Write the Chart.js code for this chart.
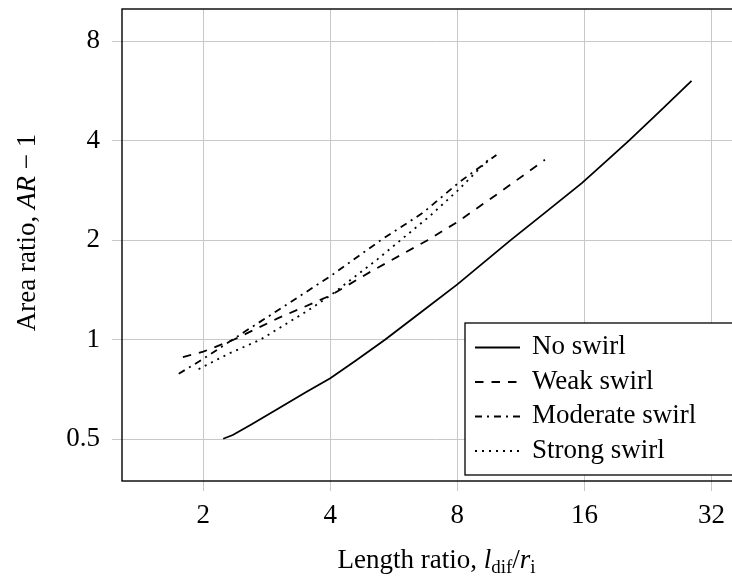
<!DOCTYPE html>
<html>
<head>
<meta charset="utf-8">
<script src="https://cdn.jsdelivr.net/npm/chart.js@4.4.1/dist/chart.umd.min.js"></script>
<style>
html,body{margin:0;padding:0;overflow:hidden;background:#fff;width:732px;height:577px;}
canvas{display:block;}
</style>
</head>
<body>
<canvas id="c" width="760" height="577"></canvas>
<script>
// ---- data ----
const xTickValues = [2, 4, 8, 16, 32];
const yTickValues = [0.5, 1, 2, 4, 8];

const seriesNames = ["No swirl", "Weak swirl", "Moderate swirl", "Strong swirl"];

const noSwirlX = [2.23, 2.35, 2.6, 3.0, 3.5, 4.0, 4.6, 5.39, 6.5, 8.0, 10.7, 13.0, 15.8, 18.0, 20.4, 24.0, 28.7];
const noSwirlY = [0.502, 0.515, 0.554, 0.617, 0.694, 0.765, 0.865, 1.0, 1.2, 1.47, 2.0, 2.44, 2.98, 3.46, 4.0, 4.87, 6.06];

const weakX = [1.79, 2.0, 2.36, 3.0, 4.0, 5.0, 6.8, 8.0, 10.0, 12.9];
const weakY = [0.886, 0.92, 1.0, 1.16, 1.36, 1.61, 2.0, 2.27, 2.77, 3.5];

const moderateX = [1.75, 2.0, 2.5, 3.0, 4.0, 5.27, 6.63, 8.1, 9.9];
const moderateY = [0.789, 0.875, 1.055, 1.225, 1.556, 2.0, 2.42, 3.0, 3.62];

const strongX = [1.95, 2.3, 2.73, 3.52, 4.0, 5.17, 6.87, 8.0, 9.6];
const strongY = [0.815, 0.908, 1.0, 1.22, 1.36, 1.75, 2.36, 2.82, 3.56];

// ---- styling ----
const FONT = "'Liberation Serif', 'Times New Roman', serif";
const FS = 27;
const dashes = [[], [8.5, 8], [7, 5, 2, 5], [2, 5]];
const LW = 1.8;

function pts(xs, ys) { return xs.map((x, i) => ({x: x, y: ys[i]})); }
const seriesData = [pts(noSwirlX, noSwirlY), pts(weakX, weakY), pts(moderateX, moderateY), pts(strongX, strongY)];

const datasets = seriesData.map((d, i) => ({
  label: seriesNames[i],
  data: d,
  borderColor: '#000',
  borderWidth: LW,
  borderDash: dashes[i],
  pointRadius: 0,
  fill: false,
  tension: 0
}));

function drawRuns(ctx, runs, x, y, align) {
  let total = 0;
  runs.forEach(r => { ctx.font = (r.style || '') + ' ' + r.size + 'px ' + FONT; r.w = ctx.measureText(r.t).width; total += r.w; });
  let cx = align === 'center' ? x - total / 2 : x;
  runs.forEach(r => {
    ctx.font = (r.style || '') + ' ' + r.size + 'px ' + FONT;
    ctx.fillText(r.t, cx, y + (r.dy || 0));
    cx += r.w;
  });
}

const decor = {
  id: 'decor',
  afterDraw(chart) {
    const ctx = chart.ctx;
    const a = chart.chartArea;
    ctx.save();
    // frame
    ctx.strokeStyle = '#000';
    ctx.lineWidth = 1.4;
    ctx.setLineDash([]);
    ctx.strokeRect(a.left, a.top, a.right - a.left, a.bottom - a.top);

    // legend
    const bx = 465, by = 323, bw = a.right - 5 - 465, bh = 152;
    ctx.fillStyle = '#fff';
    ctx.fillRect(bx, by, bw, bh);
    ctx.lineWidth = 1.3;
    ctx.strokeRect(bx, by, bw, bh);
    const rows = [347.5, 382, 416.5, 451];
    ctx.textBaseline = 'alphabetic';
    ctx.textAlign = 'left';
    seriesNames.forEach((n, i) => {
      ctx.beginPath();
      ctx.setLineDash(dashes[i]);
      ctx.lineWidth = LW;
      ctx.strokeStyle = '#000';
      ctx.moveTo(475, rows[i]);
      ctx.lineTo(520, rows[i]);
      ctx.stroke();
      ctx.setLineDash([]);
      ctx.fillStyle = '#000';
      ctx.font = FS + 'px ' + FONT;
      ctx.fillText(n, 532, rows[i] + 6.5);
    });

    // x axis title
    ctx.fillStyle = '#000';
    ctx.textAlign = 'left';
    drawRuns(ctx, [
      {t: 'Length ratio, ', size: FS},
      {t: 'l', style: 'italic', size: FS},
      {t: 'dif', size: 19, dy: 5},
      {t: '/', size: FS},
      {t: 'r', style: 'italic', size: FS},
      {t: 'i', size: 19, dy: 5}
    ], (a.left + a.right) / 2, 568, 'center');

    // y axis title
    ctx.save();
    ctx.translate(35, 232.5);
    ctx.rotate(-Math.PI / 2);
    drawRuns(ctx, [
      {t: 'Area ratio, ', size: FS},
      {t: 'AR', style: 'italic', size: FS},
      {t: ' \u2212 1', size: FS}
    ], 0, 0, 'center');
    ctx.restore();
    ctx.restore();
  }
};

new Chart(document.getElementById('c'), {
  type: 'line',
  data: {datasets: datasets},
  options: {
    responsive: false,
    animation: false,
    devicePixelRatio: 1,
    layout: {padding: {top: 9, right: 9, left: 0, bottom: 0}},
    plugins: {legend: {display: false}, tooltip: {enabled: false}},
    scales: {
      x: {
        type: 'logarithmic',
        min: 1.284, max: 39.7,
        afterBuildTicks: s => { s.ticks = xTickValues.map(v => ({value: v})); },
        afterFit: s => { s.height = 96; s.paddingLeft = 0; s.paddingRight = 0; },
        ticks: {
          font: {family: FONT, size: FS}, color: '#000', padding: 9,
          maxRotation: 0, autoSkip: false,
          callback: v => String(v)
        },
        grid: {color: 'rgb(200,200,200)', lineWidth: 1, tickLength: 10, tickColor: 'rgb(200,200,200)', drawTicks: true},
        border: {display: false}
      },
      y: {
        type: 'logarithmic',
        min: 0.374, max: 10.0,
        afterBuildTicks: s => { s.ticks = yTickValues.map(v => ({value: v})); },
        afterFit: s => { s.width = 122; s.paddingTop = 0; s.paddingBottom = 0; },
        ticks: {
          font: {family: FONT, size: FS}, color: '#000', padding: 12,
          autoSkip: false,
          callback: v => String(v)
        },
        grid: {color: 'rgb(200,200,200)', lineWidth: 1, tickLength: 10, tickColor: 'rgb(200,200,200)', drawTicks: true},
        border: {display: false}
      }
    }
  },
  plugins: [decor]
});
</script>
</body>
</html>
